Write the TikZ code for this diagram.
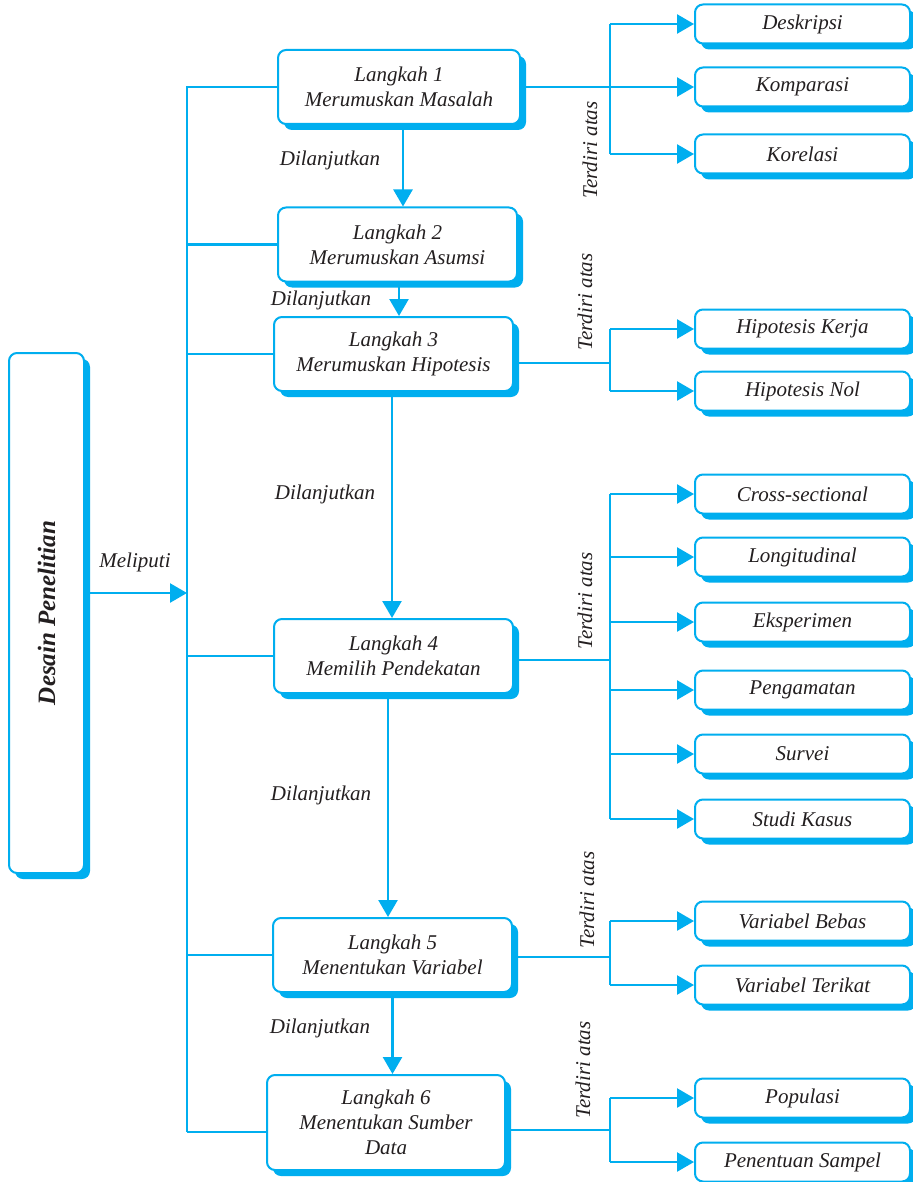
\documentclass[tikz,border=0pt]{standalone}
\usepackage{fontspec}
\setmainfont{Liberation Serif}
\usetikzlibrary{arrows.meta,shadows}
\definecolor{cy}{HTML}{00AEEF}
\definecolor{ink}{HTML}{231F20}
\begin{document}
\begin{tikzpicture}[x=1pt,y=-1pt,
  boxbase/.style={draw=cy, line width=2pt, fill=white, rounded corners=8pt,
    inner sep=0pt, align=center, text=ink,
    drop shadow={shadow xshift=6pt, shadow yshift=-6pt, fill=cy, opacity=1}},
  stepbox/.style={boxbase, minimum width=239pt, minimum height=74pt,
    font=\fontsize{21}{25}\selectfont\itshape},
  itembox/.style={boxbase, minimum width=215pt, minimum height=39pt,
    font=\fontsize{21}{25}\selectfont\itshape},
  mainbox/.style={boxbase, minimum width=75pt, minimum height=520pt,
    font=\fontsize{25}{30}\selectfont\bfseries\itshape},
  lbl/.style={text=ink, font=\fontsize{21}{25}\selectfont\itshape, inner sep=0pt},
  ln/.style={draw=cy, line width=2.5pt},
  arr/.style={ln, -{Triangle[length=17pt,width=19pt]}}]

\useasboundingbox (0,0) rectangle (912,1182);
\fill[white] (0,0) rectangle (912,1182);

% main box
\node[mainbox] (main) at (46.5,613) {};
\node[rotate=90, text=ink, font=\fontsize{25}{30}\selectfont\bfseries\itshape] (maint) at (main.center) {Desain Penelitian};

% steps
\node[stepbox, minimum width=242pt] (s1) at (399,87) {Langkah 1\\Merumuskan Masalah};
\node[stepbox] (s2) at (397.5,244.5) {Langkah 2\\Merumuskan Asumsi};
\node[stepbox] (s3) at (393.5,354) {Langkah 3\\Merumuskan Hipotesis};
\node[stepbox] (s4) at (393.5,656) {Langkah 4\\Memilih Pendekatan};
\node[stepbox] (s5) at (392.5,955) {Langkah 5\\Menentukan Variabel};
\node[stepbox, minimum width=238pt, minimum height=95pt] (s6) at (386,1122.5) {Langkah 6\\Menentukan Sumber\\Data};

% items
\node[itembox] (desk) at (802.5,24) {Deskripsi};
\node[itembox] (komp) at (802.5,87) {Komparasi};
\node[itembox] (kore) at (802.5,154) {Korelasi};
\node[itembox] (hk) at (802.5,329) {Hipotesis Kerja};
\node[itembox] (hn) at (802.5,391) {Hipotesis Nol};
\node[itembox] (cs) at (802.5,494) {Cross-sectional};
\node[itembox] (lo) at (802.5,557) {Longitudinal};
\node[itembox] (ek) at (802.5,622) {Eksperimen};
\node[itembox] (pg) at (802.5,690) {Pengamatan};
\node[itembox] (sv) at (802.5,754) {Survei};
\node[itembox] (sk) at (802.5,819) {Studi Kasus};
\node[itembox] (vb) at (802.5,921) {Variabel Bebas};
\node[itembox] (vt) at (802.5,985) {Variabel Terikat};
\node[itembox] (po) at (802.5,1098) {Populasi};
\node[itembox] (ps) at (802.5,1162) {Penentuan Sampel};

% left bus
\coordinate (bus) at (187,1132);
\coordinate (mel) at (187,593);
\draw[ln] (s1.west) -| (bus);
\draw[ln] (s2.west) -- (s2.west -| bus);
\draw[ln] (s3.west) -- (s3.west -| bus);
\draw[ln] (s4.west) -- (s4.west -| bus);
\draw[ln] (s5.west) -- (s5.west -| bus);
\draw[ln] (s6.west |- bus) -- (bus);
\draw[arr] (main.east |- mel) -- (mel);
\node[lbl] (tmel) at (135,562) {Meliputi};

% steps chain
\draw[arr] ([xshift=4pt]s1.south) -- ([xshift=4pt]s1.south |- s2.north);
\draw[arr] ([xshift=1.5pt]s2.south) -- ([xshift=1.5pt]s2.south |- s3.north);
\draw[arr] ([xshift=-1.5pt]s3.south) -- ([xshift=-1.5pt]s3.south |- s4.north);
\draw[arr] ([xshift=-5.5pt]s4.south) -- ([xshift=-5.5pt]s4.south |- s5.north);
\draw[arr] (s5.south) -- (s5.south |- s6.north);
\node[lbl] (d1) at (330,160) {Dilanjutkan};
\node[lbl] (d2) at (321,300) {Dilanjutkan};
\node[lbl] (d3) at (325,494) {Dilanjutkan};
\node[lbl] (d4) at (321,795) {Dilanjutkan};
\node[lbl] (d5) at (320,1028) {Dilanjutkan};

% right trunks
\coordinate (j1) at (610,87);
\coordinate (j3) at (610,363);
\coordinate (j4) at (610,660);
\coordinate (j5) at (610,957);
\coordinate (j6) at (610,1130);

\draw[arr] (s1.east) -- (komp.west);
\draw[ln] (desk.west -| j1) -- (kore.west -| j1);
\draw[arr] (desk.west -| j1) -- (desk.west);
\draw[arr] (kore.west -| j1) -- (kore.west);

\draw[ln] (s3.east |- j3) -- (j3);
\draw[ln] (hk.west -| j3) -- (hn.west -| j3);
\foreach \t in {hk,hn} \draw[arr] (\t.west -| j3) -- (\t.west);

\draw[ln] (s4.east |- j4) -- (j4);
\draw[ln] (cs.west -| j4) -- (sk.west -| j4);
\foreach \t in {cs,lo,ek,pg,sv,sk} \draw[arr] (\t.west -| j4) -- (\t.west);

\draw[ln] (s5.east |- j5) -- (j5);
\draw[ln] (vb.west -| j5) -- (vt.west -| j5);
\foreach \t in {vb,vt} \draw[arr] (\t.west -| j5) -- (\t.west);

\draw[ln] (s6.east |- j6) -- (j6);
\draw[ln] (po.west -| j6) -- (ps.west -| j6);
\foreach \t in {po,ps} \draw[arr] (\t.west -| j6) -- (\t.west);

\node[lbl, rotate=90] (ta1) at (590,150) {Terdiri atas};
\node[lbl, rotate=90] (ta3) at (585,302) {Terdiri atas};
\node[lbl, rotate=90] (ta4) at (585,601) {Terdiri atas};
\node[lbl, rotate=90] (ta5) at (587,900) {Terdiri atas};
\node[lbl, rotate=90] (ta6) at (583,1070) {Terdiri atas};
\end{tikzpicture}
\end{document}
